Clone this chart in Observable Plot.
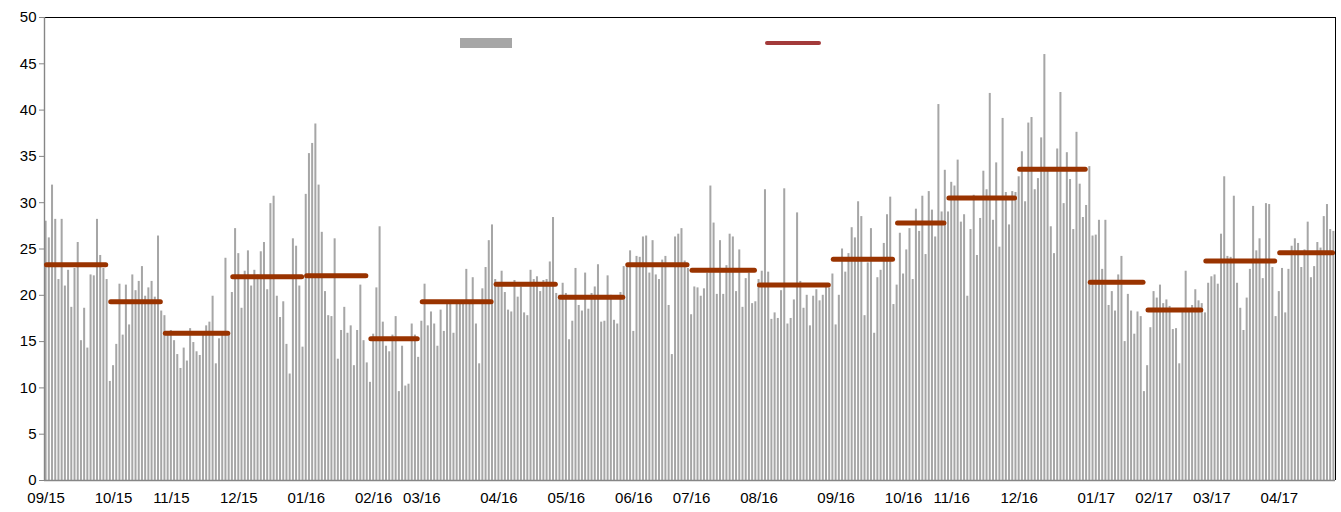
<!DOCTYPE html>
<html>
<head>
<meta charset="utf-8">
<script src="https://cdn.jsdelivr.net/npm/d3@7"></script>
<script src="https://cdn.jsdelivr.net/npm/@observablehq/plot@0.6"></script>
<style>
  html, body { margin: 0; padding: 0; background: #fff; }
  #wrap { position: relative; width: 1341px; height: 512px; font-family: "Liberation Sans", Arial, sans-serif; }
  .leg-bar { position: absolute; left: 460px; top: 38px; width: 52px; height: 9.5px; background: #a6a6a6; }
  .leg-line { position: absolute; left: 765px; top: 40.8px; width: 56px; height: 4px; border-radius: 2px; background: #a33a3a; }
</style>
</head>
<body>
<div id="wrap"><div class="leg-bar"></div><div class="leg-line"></div></div>
<script>
// Month labels (category groups)
const months = ["09/15","10/15","11/15","12/15","01/16","02/16","03/16","04/16","05/16","06/16",
                "07/16","08/16","09/16","10/16","11/16","12/16","01/17","02/17","03/17","04/17"];

// Daily values, one array per month
const sep15 = [28.0, 26.2, 31.9, 28.2, 21.7, 28.2, 21.0, 22.7, 18.7, 22.9, 25.7, 15.1, 18.6, 14.3, 22.2, 22.1, 28.2, 24.3, 22.9, 21.7];
const oct15 = [10.7, 12.4, 14.7, 21.2, 15.7, 21.1, 16.8, 22.2, 20.5, 21.5, 23.1, 19.9, 20.8, 21.5, 19.8, 26.4, 18.3];
const nov15 = [17.8, 15.8, 16.2, 15.1, 13.6, 12.1, 14.3, 12.9, 16.4, 14.9, 13.9, 13.5, 15.7, 16.7, 17.1, 19.9, 12.6, 15.3, 15.7, 24.0, 15.8];
const dec15 = [20.3, 27.2, 24.5, 18.6, 22.6, 24.8, 21.0, 22.7, 22.2, 24.7, 25.7, 20.6, 29.9, 30.7, 19.9, 17.6, 19.3, 14.7, 11.5, 26.1, 25.3, 21.0, 14.4];
const jan16 = [30.9, 35.3, 36.4, 38.5, 31.9, 26.8, 20.4, 17.8, 17.7, 26.1, 13.1, 16.2, 18.7, 15.9, 16.7, 12.4, 16.2, 21.1, 15.1, 12.7];
const feb16 = [10.6, 15.8, 20.8, 27.4, 17.1, 14.5, 13.9, 15.7, 17.7, 9.6, 14.5, 10.2, 10.4, 16.9, 15.7, 13.3];
const mar16 = [17.2, 21.2, 16.7, 18.2, 16.9, 14.5, 18.4, 16.1, 19.1, 19.2, 15.9, 19.1, 19.1, 19.3, 22.8, 19.2, 21.9, 16.9, 12.6, 20.7, 23.0, 25.9, 27.6];
const apr16 = [21.7, 21.0, 22.6, 20.3, 18.4, 18.2, 21.6, 19.8, 20.9, 18.1, 17.8, 22.7, 21.7, 22.0, 20.4, 21.6, 21.7, 23.6, 28.4, 20.2];
const may16 = [20.0, 21.3, 20.2, 15.2, 17.2, 22.9, 18.9, 18.3, 22.4, 18.5, 20.2, 20.9, 23.3, 17.1, 17.2, 22.1, 20.0, 17.3, 16.9, 20.3, 23.1];
const jun16 = [23.0, 24.8, 16.1, 24.2, 24.1, 26.3, 26.4, 22.4, 25.9, 22.2, 21.7, 23.8, 24.2, 18.9, 13.6, 26.3, 26.6, 27.2, 23.7, 22.9];
const jul16 = [17.9, 20.9, 20.8, 19.9, 20.7, 22.4, 31.8, 27.8, 20.1, 25.9, 20.1, 23.2, 26.6, 26.3, 20.4, 24.9, 18.7, 21.8, 22.4, 19.1, 19.3];
const aug16 = [21.7, 22.6, 31.4, 22.5, 17.4, 18.1, 17.5, 20.5, 31.5, 16.9, 17.5, 19.5, 28.9, 21.5, 18.6, 20.0, 16.7, 19.9, 20.6, 19.4, 20.0, 20.9, 20.8];
const sep16 = [22.3, 16.8, 20.0, 25.0, 22.5, 24.5, 27.3, 26.2, 30.1, 28.5, 17.8, 23.5, 27.2, 15.9, 21.9, 22.7, 25.6, 28.7, 30.6, 19.0];
const oct16 = [21.1, 26.7, 22.3, 24.9, 27.2, 21.7, 29.3, 26.9, 30.7, 24.4, 31.2, 29.2, 26.3, 40.6, 29.0, 33.5];
const nov16 = [29.0, 32.2, 31.8, 34.6, 27.9, 28.7, 19.9, 27.1, 30.8, 24.3, 28.3, 33.4, 31.4, 41.8, 28.1, 34.3, 25.2, 39.1, 31.1, 27.6, 31.2, 31.1];
const dec16 = [32.8, 35.5, 30.1, 38.6, 39.2, 31.4, 32.6, 37.0, 46.0, 33.7, 27.4, 24.5, 35.8, 41.9, 29.9, 35.4, 32.5, 27.1, 37.6, 32.0, 28.4, 29.7];
const jan17 = [33.9, 26.4, 26.5, 28.1, 22.8, 28.1, 18.9, 20.4, 18.3, 22.2, 24.2, 15.0, 20.1, 18.3, 15.8, 18.2, 17.7, 9.6];
const feb17 = [12.4, 16.5, 20.4, 19.7, 21.1, 19.1, 19.5, 18.8, 16.3, 16.4, 12.6, 18.3, 22.6, 18.2, 18.9, 20.6, 19.4, 19.1];
const mar17 = [18.1, 21.3, 22.0, 22.2, 21.2, 26.6, 32.8, 24.2, 24.1, 30.7, 21.3, 18.6, 16.2, 19.7, 22.8, 29.6, 24.8, 26.1, 21.8, 29.9, 29.8, 23.0, 17.7];
const apr17 = [20.4, 22.9, 18.1, 22.8, 25.3, 26.1, 25.6, 23.0, 24.9, 27.9, 21.9, 23.1, 25.7, 25.1, 28.5, 29.8, 27.1, 26.9];

// Monthly averages (the dark red segments)
const monthlyAvg = [23.3, 19.3, 15.9, 22.0, 22.1, 15.3, 19.3, 21.2, 19.8, 23.3,
                    22.7, 21.1, 23.9, 27.8, 30.5, 33.6, 21.4, 18.4, 23.7, 24.6];

// X tick labels and the trading-day index under each label
const tickLabels = months;
const tickDays = [0, 21, 39, 60, 81, 102, 117, 141, 162, 183, 201, 222, 246, 267, 282, 303, 327, 345, 363, 384];

// Y ticks
const yTicks = [0, 5, 10, 15, 20, 25, 30, 35, 40, 45, 50];

// ---- build tables ----
const daily = [sep15, oct15, nov15, dec15, jan16, feb16, mar16, apr16, may16, jun16,
               jul16, aug16, sep16, oct16, nov16, dec16, jan17, feb17, mar17, apr17];
const bars = [];
const segs = [];
let idx = 0;
daily.forEach((arr, m) => {
  const start = idx;
  arr.forEach(v => { bars.push({i: idx, j: idx + 1, v}); idx++; });
  segs.push({s: start, e: idx, y: monthlyAvg[m], month: months[m]});
});
const N = idx;
const labelAt = new Map(tickDays.map((d, k) => [d + 0.5, tickLabels[k]]));

const chart = Plot.plot({
  width: 1341,
  height: 512,
  marginLeft: 44,
  marginRight: 6,
  marginTop: 17,
  marginBottom: 32,
  style: {fontFamily: "'Liberation Sans', Arial, sans-serif", fontSize: "15px", color: "#000", background: "#fff"},
  x: {domain: [0, N], axis: null},
  y: {domain: [0, 50], axis: null},
  marks: [
    Plot.rect(bars, {x1: "i", x2: "j", y1: 0, y2: "v", fill: "#a6a6a6", insetLeft: 0.6, insetRight: 0.6}),
    Plot.ruleY([50], {stroke: "#000", strokeWidth: 1}),
    Plot.ruleX([N], {stroke: "#000", strokeWidth: 1}),
    Plot.ruleX([0], {stroke: "#868686", strokeWidth: 1.4}),
    Plot.ruleY([0], {stroke: "#868686", strokeWidth: 1.4}),
    Plot.ruleY(segs, {x1: "s", x2: "e", y: "y", stroke: "#993300", strokeWidth: 5, strokeLinecap: "round", insetLeft: 2.5, insetRight: 2.5}),
    Plot.axisY({ticks: yTicks, tickSize: 5, tickPadding: 3, stroke: "#868686", fill: "#000", fontSize: 15, label: null}),
    Plot.axisX(tickDays.map(d => d + 0.5), {tickFormat: d => labelAt.get(d), tickSize: 0, tickPadding: 12, fill: "#000", fontSize: 15, label: null})
  ]
});
document.getElementById("wrap").prepend(chart);
</script>
</body>
</html>
